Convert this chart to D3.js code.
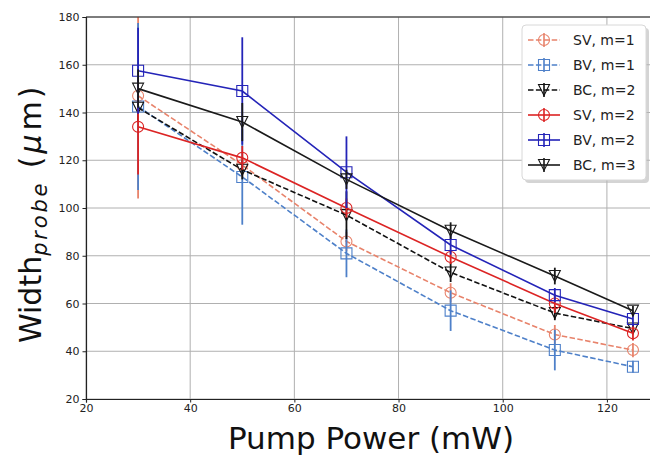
<!DOCTYPE html>
<html>
<head>
<meta charset="utf-8">
<script src="https://cdn.jsdelivr.net/npm/d3@7"></script>
<style>
  body { margin: 0; background: #fff; }
  svg { font-family: "DejaVu Sans", sans-serif; display: block; }
</style>
</head>
<body>
<svg></svg>
<script>
// pump power (mW)
const power = [30, 50, 70, 90, 110, 125]

// widths (um) and error bars, one pair per series
const sv1 = [147, 118, 86, 64.5, 47, 40.5]
const sv1Err = [43, 5, 4, 4, 4, 3]
const bv1 = [142.5, 113, 81, 57, 40.5, 33.5]
const bv1Err = [35, 20, 10, 8.5, 8.5, 2.5]
const bc2 = [142, 116, 97, 73, 56, 49.5]
const bc2Err = [6, 4, 10, 4, 3, 2]
const sv2 = [134, 121, 100, 79.5, 60, 47.5]
const sv2Err = [20, 5, 4, 3, 4, 3]
const bv2 = [157.5, 149, 115, 84.5, 63.5, 53.5]
const bv2Err = [18, 22.5, 15, 4, 3, 3]
const bc3 = [150, 136, 112, 90.5, 71.5, 57]
const bc3Err = [8, 8, 4, 3.5, 3.5, 2]

const seriesNames = ['SV, m=1', 'BV, m=1', 'BC, m=2', 'SV, m=2', 'BV, m=2', 'BC, m=3']

const xTicks = [20, 40, 60, 80, 100, 120]
const yTicks = [20, 40, 60, 80, 100, 120, 140, 160, 180]

let width = 650
let height = 455
let margin = {left: 86, top: 17, right: 659, bottom: 399}

// colours / styles per series
const styles = [
    {color: '#e8836b', dash: '5.5,2.4', marker: 'circle'},
    {color: '#4e80c9', dash: '5.5,2.4', marker: 'square'},
    {color: '#111111', dash: '5.5,2.4', marker: 'triangle'},
    {color: '#dc2424', dash: null, marker: 'circle'},
    {color: '#2424b8', dash: null, marker: 'square'},
    {color: '#1a1a1a', dash: null, marker: 'triangle'}
]

const series = [
    [sv1, sv1Err], [bv1, bv1Err], [bc2, bc2Err],
    [sv2, sv2Err], [bv2, bv2Err], [bc3, bc3Err]
].map((d, i) => ({
    name: seriesNames[i],
    style: styles[i],
    points: power.map((p, j) => ({x: p, y: d[0][j], err: d[1][j]}))
}))

let svg = d3.select('svg')
    .attr('width', width)
    .attr('height', height)

let xScale = d3.scaleLinear().domain([20, 130]).range([margin.left, margin.right])
let yScale = d3.scaleLinear().domain([20, 180]).range([margin.bottom, margin.top])

svg.append('clipPath').attr('id', 'plot-clip')
   .append('rect')
   .attr('x', margin.left).attr('y', margin.top)
   .attr('width', margin.right - margin.left)
   .attr('height', margin.bottom - margin.top)

// grid
let grid = svg.append('g')
grid.selectAll('.gx').data(xTicks).enter().append('line')
    .attr('x1', d => xScale(d)).attr('x2', d => xScale(d))
    .attr('y1', margin.top).attr('y2', margin.bottom)
    .attr('stroke', '#b0b0b0').attr('stroke-width', 1)
grid.selectAll('.gy').data(yTicks).enter().append('line')
    .attr('x1', margin.left).attr('x2', margin.right)
    .attr('y1', d => yScale(d)).attr('y2', d => yScale(d))
    .attr('stroke', '#b0b0b0').attr('stroke-width', 1)

const markerPath = (type, size) => {
    let s = size / 2
    if (type === 'square') return `M${-s},${-s}h${size}v${size}h${-size}Z`
    if (type === 'triangle') return `M${-s},${-s}L${s},${-s}L0,${s}Z`
    return d3.symbol(d3.symbolCircle, Math.PI * s * s)()
}

let plot = svg.append('g').attr('clip-path', 'url(#plot-clip)')

const line = d3.line().x(d => xScale(d.x)).y(d => yScale(d.y))

series.forEach(s => {
    let g = plot.append('g')
    g.selectAll('.err').data(s.points).enter().append('line')
        .attr('x1', d => xScale(d.x)).attr('x2', d => xScale(d.x))
        .attr('y1', d => yScale(d.y - d.err)).attr('y2', d => yScale(d.y + d.err))
        .attr('stroke', s.style.color).attr('stroke-width', 1.8)
    g.append('path')
        .attr('d', line(s.points))
        .attr('fill', 'none')
        .attr('stroke', s.style.color)
        .attr('stroke-width', 1.6)
        .attr('stroke-dasharray', s.style.dash)
    g.selectAll('.mk').data(s.points).enter().append('path')
        .attr('transform', d => `translate(${xScale(d.x)},${yScale(d.y)})`)
        .attr('d', markerPath(s.style.marker, 11))
        .attr('fill', 'none')
        .attr('stroke', s.style.color)
        .attr('stroke-width', 1.1)
})

// spines
svg.append('line').attr('x1', margin.left).attr('x2', margin.right)
   .attr('y1', margin.top).attr('y2', margin.top)
   .attr('stroke', '#222').attr('stroke-width', 1)

let xAxis = d3.axisBottom(xScale).tickValues(xTicks).tickSize(3.5).tickPadding(2)
let gx = svg.append('g')
    .attr('transform', 'translate(0,' + margin.bottom + ')')
    .call(xAxis)
let yAxis = d3.axisLeft(yScale).tickValues(yTicks).tickSize(3.5).tickPadding(3)
let gy = svg.append('g')
    .attr('transform', 'translate(' + margin.left + ',0)')
    .call(yAxis)
;[gx, gy].forEach(g => {
    g.select('.domain').attr('stroke', '#222').attr('stroke-width', 1.2)
    g.selectAll('.tick line').attr('stroke', '#222')
    g.selectAll('.tick text').attr('font-size', 11).attr('fill', '#222')
        .attr('font-family', '"DejaVu Sans", sans-serif')
})

// axis labels
svg.append('text')
   .attr('x', 371)
   .attr('y', 449)
   .attr('text-anchor', 'middle')
   .attr('font-size', 31)
   .attr('fill', '#111')
   .text('Pump Power (mW)')

let yl = svg.append('text')
   .attr('transform', 'translate(41,343) rotate(-90)')
   .attr('text-anchor', 'start')
   .attr('font-size', 30)
   .attr('fill', '#111')
yl.append('tspan').text('Width')
yl.append('tspan').attr('font-size', 21).attr('font-style', 'italic')
  .attr('letter-spacing', 2.8).attr('dy', 6).text('probe')
yl.append('tspan').attr('dy', -6).attr('letter-spacing', 3).text(' (')
yl.append('tspan').attr('font-style', 'italic').attr('letter-spacing', 4).text('\u03bc')
yl.append('tspan').attr('letter-spacing', 3).text('m)')

// legend
let lg = svg.append('g').attr('transform', 'translate(522,25)')
lg.append('rect').attr('x', 3).attr('y', 3).attr('width', 124).attr('height', 155)
  .attr('rx', 4).attr('fill', '#b8b8b8').attr('opacity', 0.6)
lg.append('rect').attr('width', 124).attr('height', 155)
  .attr('rx', 4).attr('fill', '#fff').attr('stroke', '#d8d8d8')

series.forEach((s, i) => {
    let row = lg.append('g').attr('transform', `translate(0,${15 + i * 25})`)
    row.append('line').attr('x1', 6).attr('x2', 38)
       .attr('stroke', s.style.color).attr('stroke-width', 1.6)
       .attr('stroke-dasharray', s.style.dash)
    row.append('line').attr('x1', 22).attr('x2', 22).attr('y1', -7).attr('y2', 7)
       .attr('stroke', s.style.color).attr('stroke-width', 1.6)
    row.append('path').attr('transform', 'translate(22,0)')
       .attr('d', markerPath(s.style.marker, 11))
       .attr('fill', 'none').attr('stroke', s.style.color).attr('stroke-width', 1.1)
    row.append('text').attr('x', 51).attr('y', 5)
       .attr('font-size', 14).attr('fill', '#222')
       .text(s.name)
})
</script>
</body>
</html>
